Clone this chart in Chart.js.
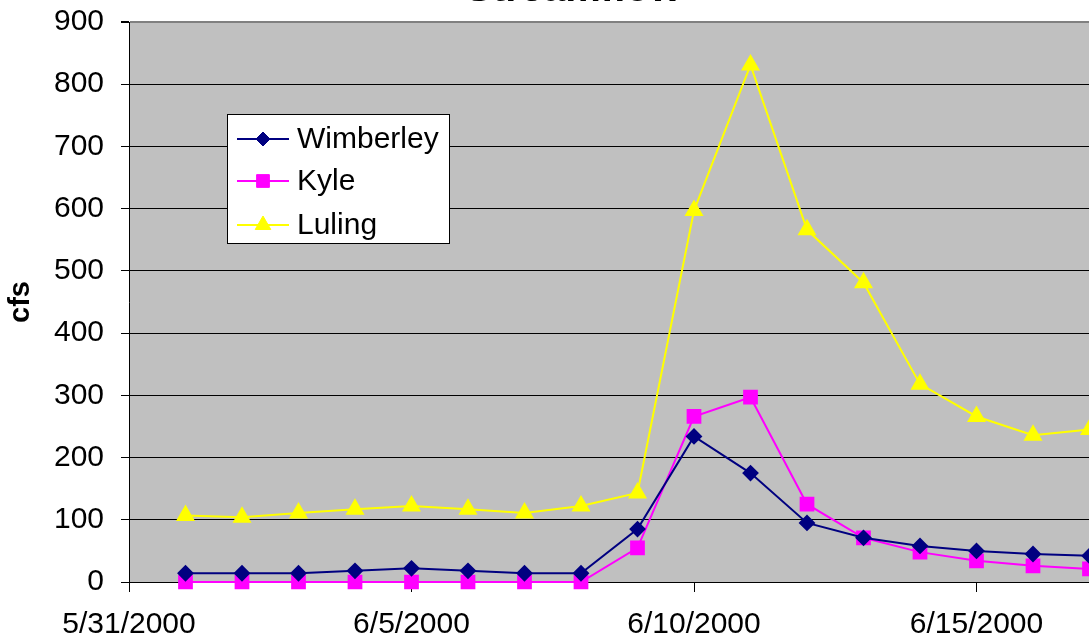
<!DOCTYPE html>
<html>
<head>
<meta charset="utf-8">
<title>Streamflow</title>
<script src="https://cdn.jsdelivr.net/npm/chart.js@4.4.0/dist/chart.umd.min.js"></script>
<style>
    html, body { margin: 0; padding: 0; background: #fff; }
    #wrap { position: relative; width: 1089px; height: 644px; overflow: hidden; }
    #holder { position: absolute; left: 0; top: -34px; }
</style>
</head>
<body>
<div id="wrap">
    <div id="holder">
        <canvas id="myChart" width="1174" height="700"></canvas>
    </div>
</div>
<script>
// days after 5/31/2000
const napok = [1, 2, 3, 4, 5, 6, 7, 8, 9, 10, 11, 12, 13, 14, 15, 16, 17];
const datumok = ['6/1/2000','6/2/2000','6/3/2000','6/4/2000','6/5/2000','6/6/2000','6/7/2000','6/8/2000','6/9/2000',
                 '6/10/2000','6/11/2000','6/12/2000','6/13/2000','6/14/2000','6/15/2000','6/16/2000','6/17/2000'];
const wimberley = [14, 14, 14, 18, 22, 18, 14, 14, 85, 234, 175, 95, 71, 58, 50, 45, 42];
const kyle      = [0, 0, 0, 0, 0, 0, 0, 0, 55, 266, 297, 125, 71, 48, 34, 26, 21];
const luling    = [107, 104, 111, 117, 122, 117, 111, 122, 143, 597, 831, 566, 481, 318, 266, 236, 245];
const xTickLabels = ['5/31/2000', '6/5/2000', '6/10/2000', '6/15/2000', '6/20/2000'];
const yTicks = [0, 100, 200, 300, 400, 500, 600, 700, 800, 900];

const OFFSET = 34; // canvas is shifted up, title cut off like the picture
const FONT = "'Liberation Sans', Arial, sans-serif";

function pontok(ertekek) {
    var lista = [];
    for (var i = 0; i < napok.length; i++) {
        lista.push({x: napok[i], y: ertekek[i]});
    }
    return lista;
}

// gray plot area
const hatter = {
    id: 'hatter',
    beforeDraw: function(chart) {
        const a = chart.chartArea;
        const ctx = chart.ctx;
        ctx.save();
        ctx.fillStyle = '#C0C0C0';
        ctx.fillRect(a.left, a.top, a.right - a.left, a.bottom - a.top);
        ctx.restore();
    }
};

// legend box inside the plot
const jelmagyarazat = {
    id: 'jelmagyarazat',
    afterDraw: function(chart) {
        const ctx = chart.ctx;
        const box = {x: 227, y: 114 + OFFSET, w: 222, h: 129};
        const sorok = [139, 181, 225];
        ctx.save();
        ctx.fillStyle = '#fff';
        ctx.fillRect(box.x, box.y, box.w, box.h);
        ctx.strokeStyle = '#000';
        ctx.lineWidth = 1;
        ctx.strokeRect(box.x + 0.5, box.y + 0.5, box.w, box.h);
        chart.data.datasets.forEach(function(ds, i) {
            const y = sorok[i] + OFFSET;
            ctx.strokeStyle = ds.borderColor;
            ctx.lineWidth = 2;
            ctx.beginPath();
            ctx.moveTo(237, y);
            ctx.lineTo(289, y);
            ctx.stroke();
            ctx.fillStyle = ds.pointBackgroundColor;
            ctx.strokeStyle = ds.borderColor;
            ctx.lineWidth = 1;
            Chart.helpers.drawPoint(ctx, {pointStyle: ds.pointStyle, rotation: 0, radius: ds.pointRadius, borderWidth: 1}, 263, y);
            ctx.fillStyle = '#000';
            ctx.font = '30px ' + FONT;
            ctx.textBaseline = 'middle';
            ctx.textAlign = 'left';
            ctx.fillText(ds.label, 297, y + 1);
        });
        ctx.restore();
    }
};

const config = {
    type: 'line',
    data: {
        datasets: [
            {
                label: 'Wimberley',
                data: pontok(wimberley),
                borderColor: '#000080',
                backgroundColor: '#000080',
                pointBackgroundColor: '#000080',
                pointStyle: 'rectRot',
                pointRadius: 7,
                borderWidth: 2,
                clip: false
            },
            {
                label: 'Kyle',
                data: pontok(kyle),
                borderColor: '#FF00FF',
                backgroundColor: '#FF00FF',
                pointBackgroundColor: '#FF00FF',
                pointStyle: 'rect',
                pointRadius: 9,
                borderWidth: 2,
                clip: false
            },
            {
                label: 'Luling',
                data: pontok(luling),
                borderColor: '#FFFF00',
                backgroundColor: '#FFFF00',
                pointBackgroundColor: '#FFFF00',
                pointStyle: 'triangle',
                pointRadius: 9,
                borderWidth: 2,
                clip: false
            }
        ]
    },
    options: {
        responsive: false,
        animation: false,
        devicePixelRatio: 1,
        layout: { padding: {left: 0, right: 28, top: 0, bottom: 0} },
        elements: { line: { tension: 0 }, point: { borderWidth: 1, hoverRadius: 7 } },
        plugins: {
            legend: { display: false },
            tooltip: { enabled: false },
            title: {
                display: true,
                text: 'Streamflow',
                color: '#000',
                font: { family: FONT, size: 40, weight: 'bold' },
                padding: { top: 0, bottom: 8 }
            }
        },
        scales: {
            x: {
                type: 'linear',
                min: 0,
                max: 18,
                afterFit: function(s) { s.height = 84; },
                grid: { drawOnChartArea: false, tickLength: 10, tickColor: '#000' },
                border: { color: '#000', width: 1 },
                ticks: {
                    stepSize: 5,
                    autoSkip: false,
                    maxRotation: 0,
                    padding: 15,
                    color: '#000',
                    font: { family: FONT, size: 30 },
                    callback: function(v) {
                        if (v % 5 !== 0) return '';
                        return xTickLabels[v / 5];
                    }
                }
            },
            y: {
                min: 0,
                max: 900,
                afterFit: function(s) { s.width = 129; },
                afterBuildTicks: function(s) {
                    s.ticks = yTicks.map(function(v) { return {value: v}; });
                },
                grid: {
                    color: function(c) { return c.tick && c.tick.value === 900 ? '#808080' : '#000'; },
                    lineWidth: function(c) { return c.tick && c.tick.value === 900 ? 2 : 1; },
                    tickLength: 8,
                    tickColor: '#000'
                },
                border: { color: '#000', width: 1 },
                title: {
                    display: true,
                    text: 'cfs',
                    color: '#000',
                    font: { family: FONT, size: 29, weight: 'bold' },
                    padding: { top: 4, bottom: 0 }
                },
                ticks: {
                    padding: 17,
                    color: '#000',
                    font: { family: FONT, size: 30 }
                }
            }
        }
    },
    plugins: [hatter, jelmagyarazat]
};

const ctx = document.getElementById('myChart').getContext('2d');
const myChart = new Chart(ctx, config);
</script>
</body>
</html>
